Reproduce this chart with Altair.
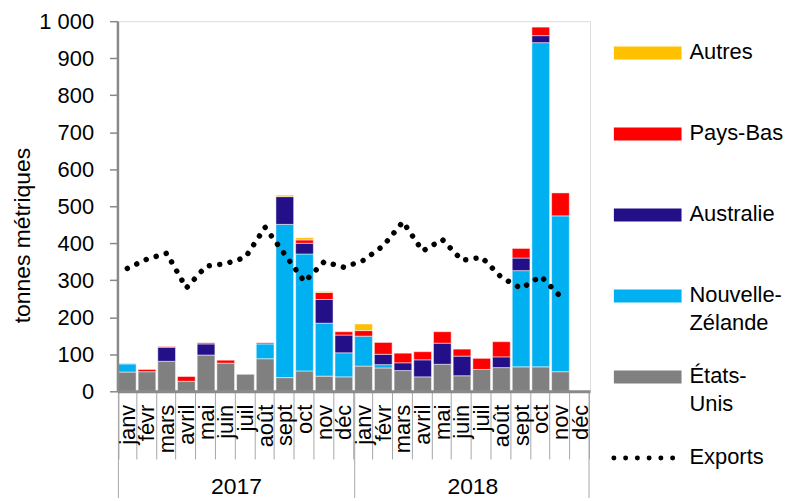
import altair as alt
import pandas as pd

mois = ["janv", "févr", "mars", "avril", "mai", "juin", "juil", "août", "sept", "oct", "nov", "déc"]
annees = ["2017", "2018"]
pays = ["États-Unis", "Nouvelle-Zélande", "Australie", "Pays-Bas", "Autres"]
couleurs = ["#808080", "#00B0F0", "#230F87", "#FF0000", "#FFC000"]

etats_unis = [52, 53, 81, 27, 98, 76, 46, 88, 37, 55, 41, 39,
              68, 63, 56, 39, 73, 42, 59, 64, 66, 66, 53, 0]
nouvelle_zelande = [22, 0, 0, 0, 0, 0, 0, 40, 414, 316, 143, 65,
                    81, 9, 0, 0, 0, 0, 0, 0, 260, 876, 421, 0]
australie = [0, 0, 38, 0, 30, 0, 0, 0, 75, 29, 64, 48,
             0, 28, 21, 46, 57, 53, 0, 29, 34, 19, 0, 0]
pays_bas = [1, 6, 2, 13, 3, 8, 0, 3, 0, 9, 19, 9,
            15, 32, 26, 22, 31, 19, 30, 41, 26, 23, 62, 0]
autres = [0, 0, 0, 0, 0, 0, 0, 0, 4, 6, 3, 0,
          18, 0, 0, 0, 0, 0, 0, 0, 0, 0, 0, 0]
exports = [332, 357, 373, 279, 338, 345, 362, 443, 370, 296, 350, 335,
           354, 393, 458, 379, 410, 354, 362, 308, 278, 311, 256, None]

legende_textes = ["Autres", "Pays-Bas", "Australie", "Nouvelle-\nZélande", "États-\nUnis", "Exports"]
legende_series = ["Autres", "Pays-Bas", "Australie", "Nouvelle-Zélande", "États-Unis", "Exports"]

FONT = "Liberation Sans"
keys = [f"{a}|{m}" for a in annees for m in mois]

rows = []
for ordre, (serie, vals) in enumerate(zip(pays, [etats_unis, nouvelle_zelande, australie, pays_bas, autres])):
    for k, v in zip(keys, vals):
        if v:
            rows.append({"key": k, "pays": serie, "ordre": ordre, "valeur": v})
bars_df = pd.DataFrame(rows)
exp_df = pd.DataFrame([{"key": k, "exports": v} for k, v in zip(keys, exports) if v is not None])
sep_df = pd.DataFrame({"key": [f"{a}|janv" for a in annees]})
end_df = pd.DataFrame({"key": [keys[-1]]})
yr_df = pd.DataFrame({"key": [f"{a}|juil" for a in annees], "annee": annees})

H = 372
W = 475

xscale = alt.Scale(domain=keys, paddingInner=0.1)
xaxis = alt.Axis(title=None, labelExpr="split(datum.value, '|')[1]", labelAngle=270,
                 labelAlign="right", labelBaseline="middle", labelFontSize=22, labelColor="#000000",
                 labelPadding=-55, labelOverlap=False, tickBand="extent", tickSize=68,
                 tickColor="#A6A6A6", tickWidth=1, domainColor="#898989", domainWidth=3,
                 labelFont=FONT, zindex=1)
color_scale = alt.Scale(domain=pays, range=couleurs)


def X(**kw):
    return alt.X("key:O", sort=keys, scale=xscale, axis=xaxis, **kw)


yaxis = alt.Axis(values=list(range(0, 1001, 100)),
                 labelExpr="replace(format(datum.value, ','), ',', ' ')",
                 labelFontSize=22, labelColor="#000000", labelFont=FONT, labelPadding=16,
                 tickSize=8, tickColor="#898989", tickWidth=1.5,
                 domainColor="#898989", domainWidth=2.5, grid=False,
                 title="tonnes métriques", titleFontSize=23, titleFontWeight="normal",
                 titleFont=FONT, titleColor="#000000", titleAngle=270, titleX=-88, titleY=215,
                 titleBaseline="alphabetic", titleAlign="center", zindex=1)
yscale = alt.Scale(domain=[0, 1000], nice=False)

bars = alt.Chart(bars_df).mark_bar(stroke="white", strokeWidth=0.5).encode(
    x=X(),
    y=alt.Y("valeur:Q", stack="zero", scale=yscale, axis=yaxis),
    color=alt.Color("pays:N", scale=color_scale, legend=None),
    order=alt.Order("ordre:Q"),
)

line = alt.Chart(exp_df).mark_line(color="black", strokeWidth=5.5, strokeCap="round",
                                   strokeDash=[0.01, 10.5]).encode(
    x=X(),
    y=alt.Y("exports:Q", scale=yscale, axis=yaxis),
)

seps = alt.Chart(sep_df).mark_rule(color="#A6A6A6", strokeWidth=1).encode(
    x=X(bandPosition=0), y=alt.value(H), y2=alt.value(H + 125))
seps_end = alt.Chart(end_df).mark_rule(color="#A6A6A6", strokeWidth=1).encode(
    x=X(bandPosition=1), y=alt.value(H), y2=alt.value(H + 125))
years = alt.Chart(yr_df).mark_text(fontSize=23, font=FONT, baseline="middle", color="#000000").encode(
    x=X(bandPosition=0), y=alt.value(H + 96), text="annee:N")

main = alt.layer(bars, line, seps, seps_end, years).properties(width=W, height=H)

leg_df = pd.DataFrame({"texte": legende_textes, "serie": legende_series, "rang": list(range(6))})
ly = alt.Y("rang:Q", scale=alt.Scale(domain=[-0.393, 5.393], reverse=True, nice=False, zero=False), axis=None)
leg_base = alt.Chart(leg_df)
leg_rect = leg_base.transform_filter("datum.rang < 5").mark_rule(strokeWidth=13, strokeCap="butt").encode(
    x=alt.value(0), x2=alt.value(68), y=ly,
    color=alt.Color("serie:N", scale=color_scale, legend=None))
leg_dots = leg_base.transform_filter("datum.rang == 5").mark_rule(
    strokeWidth=5, strokeCap="round", strokeDash=[0.01, 11.8], color="black").encode(
    x=alt.value(0), x2=alt.value(59.5), y=ly)
leg_text = leg_base.mark_text(align="left", baseline="top", dy=-11, fontSize=22, font=FONT,
                              lineBreak="\n", lineHeight=28, color="#000000").encode(
    x=alt.value(76), y=ly, text="texte:N")
legend = alt.layer(leg_rect, leg_dots, leg_text).properties(
    width=170, height=471, view=alt.ViewBackground(stroke="transparent"))

chart = alt.hconcat(main, legend, spacing=15).configure_view(
    stroke="#404040", strokeWidth=1).configure(font=FONT).properties(
    padding={"left": 3, "top": 0, "right": 0, "bottom": -20})

chart.save("out.html", embed_options={"renderer": "svg", "actions": False})
